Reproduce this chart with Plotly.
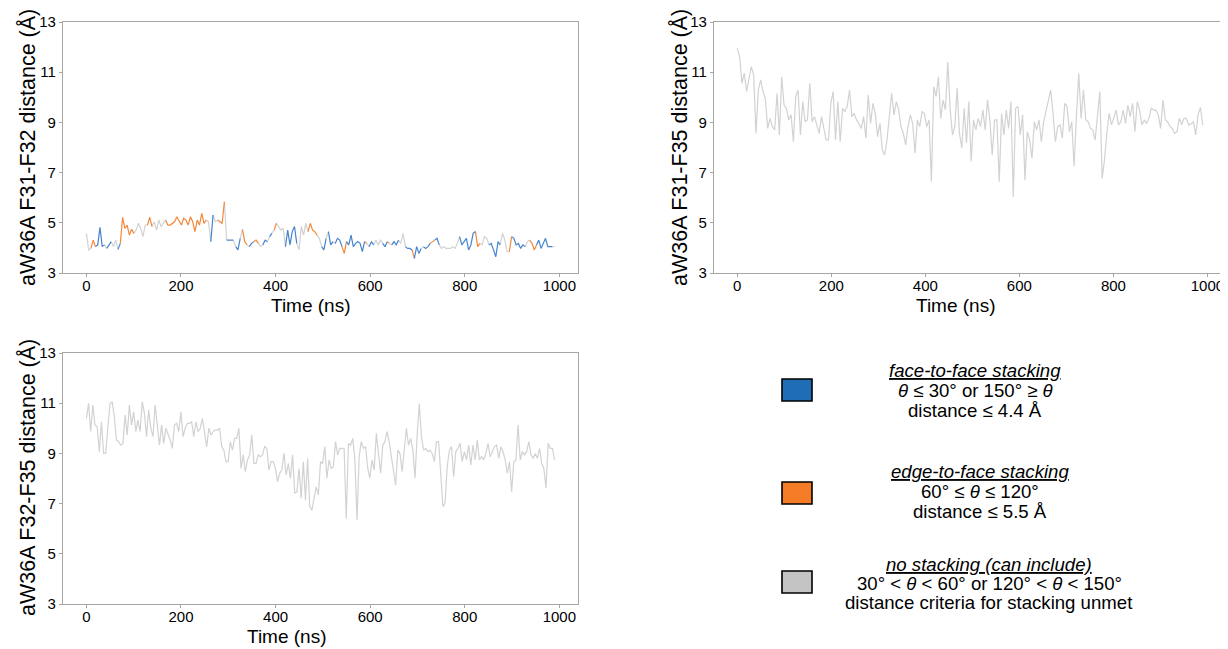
import numpy as np
import plotly.graph_objects as go

W, H = 1228, 649
OFF = 8  # page body margin offset

# ---------------- data ----------------
F31_F32 = [
    4.58, 3.92, 3.98, 4.31, 4.05, 4.12, 4.82, 4.05, 4.12, 3.98,
    4.12, 4.25, 4.05, 4.31, 3.94, 4.18, 5.22, 4.78, 4.91, 4.51,
    4.74, 4.58, 4.71, 4.98, 4.78, 4.45, 4.91, 4.91, 5.22, 4.85,
    5.04, 4.71, 5.11, 4.85, 4.98, 5.11, 4.91, 4.91, 4.98, 5.04,
    5.24, 5.04, 4.91, 5.18, 5.11, 4.91, 5.24, 5.04, 4.65, 5.11,
    4.91, 5.38, 4.98, 5.11, 5.04, 4.25, 5.31, 5.04, 5.11, 5.04,
    4.98, 5.84, 4.31, 4.31, 4.29, 4.31, 4.05, 3.92, 4.38, 4.74,
    4.25, 4.12, 4.05, 4.18, 4.25, 4.31, 4.18, 4.05, 4.12, 4.31,
    4.25, 4.45, 4.58, 4.71, 4.98, 4.85, 4.71, 4.78, 4.05, 4.71,
    4.12, 4.65, 4.85, 4.18, 3.92, 4.85, 4.51, 4.98, 4.65, 4.98,
    4.71, 4.65, 4.51, 4.38, 4.05, 3.92, 4.38, 4.65, 4.12, 4.25,
    4.18, 4.38, 4.31, 4.05, 3.78, 4.25, 4.12, 4.51, 4.05, 4.18,
    4.25, 4.18, 3.85, 4.25, 4.18, 4.05, 4.25, 4.12, 4.31, 4.12,
    4.31, 4.18, 4.05, 4.25, 4.18, 4.12, 4.25, 4.12, 4.31, 4.18,
    4.58, 4.05, 3.98, 3.98, 3.92, 3.58, 4.05, 3.78, 3.98, 4.05,
    3.98, 4.05, 4.18, 4.25, 4.31, 4.38, 4.12, 3.98, 4.05, 3.98,
    3.98, 3.98, 4.05, 3.98, 4.18, 4.45, 4.12, 4.25, 4.38, 3.92,
    4.12, 4.58, 4.65, 4.05, 4.18, 4.12, 4.45, 4.38, 4.12, 4.18,
    3.92, 3.65, 4.25, 4.12, 4.58, 4.31, 3.85, 3.85, 4.45, 4.38,
    4.12, 4.18, 3.98, 4.12, 4.05, 4.25, 4.31, 4.18, 3.92, 4.12,
    4.31, 3.98, 4.18, 4.38, 4.05, 4.05, 4.05, 4.05,
]
# f = face-to-face, e = edge-to-face, n = no stacking
F31_F32_STATE = (
    "nneeffffnf" "fnnnfeeeee" "ennnnnneen" "nnnnneeeee" "eeeeeeeeee"
    "eeennfnnee" "enfffnffne" "enffeennff" "nfnennnnff" "fffnnnnnee"
    "eennffnffn" "fffeefffff" "fffenffnnn" "nffenfffnn" "nfffefffnf"
    "ffeeffnnnn" "nnnnnfffff" "ffeennnnff" "fffnnnneff" "ffffnneeef"
    "ffffffnn"
)

F31_F35 = [
    11.95, 11.62, 10.56, 10.96, 10.23, 10.82, 11.22, 10.89, 8.56, 10.29,
    10.69, 10.23, 9.96, 8.76, 9.16, 8.83, 8.70, 10.16, 8.50, 10.82,
    9.69, 9.56, 9.10, 9.30, 8.23, 10.03, 10.29, 8.50, 9.83, 9.03,
    9.10, 10.56, 9.03, 9.23, 8.83, 8.56, 9.23, 8.83, 8.30, 8.30,
    9.76, 10.23, 8.30, 9.83, 8.23, 9.56, 9.43, 9.63, 10.29, 9.23,
    9.36, 9.10, 8.96, 8.76, 9.23, 8.37, 10.09, 8.96, 9.76, 9.36,
    8.43, 8.96, 7.90, 7.70, 8.30, 9.23, 10.16, 9.30, 9.83, 9.50,
    8.83, 8.56, 8.10, 8.83, 9.30, 8.96, 7.77, 9.10, 8.83, 9.43,
    9.36, 8.83, 9.10, 6.64, 10.42, 10.03, 10.82, 9.16, 9.90, 9.50,
    11.42, 9.56, 8.50, 8.83, 10.36, 8.56, 7.97, 9.56, 8.17, 9.83,
    7.44, 9.10, 8.70, 9.16, 8.83, 9.50, 8.70, 9.90, 9.10, 7.70,
    9.10, 9.10, 6.64, 9.36, 8.50, 9.49, 8.76, 9.83, 6.04, 9.56,
    9.63, 8.50, 9.30, 6.70, 8.63, 8.30, 7.57, 9.03, 8.70, 9.10,
    8.23, 9.03, 9.49, 9.89, 10.29, 9.36, 8.23, 8.83, 8.90, 8.37,
    9.76, 9.63, 8.63, 9.03, 7.24, 9.23, 10.96, 9.16, 10.29, 9.10,
    9.03, 8.76, 8.70, 8.30, 9.36, 10.23, 6.77, 7.50, 8.56, 9.36,
    8.90, 9.23, 9.49, 8.90, 9.03, 9.49, 8.96, 9.69, 9.23, 9.76,
    8.63, 9.83, 9.49, 8.90, 9.10, 8.96, 9.16, 9.56, 9.49, 9.49,
    9.30, 8.76, 9.89, 9.10, 9.03, 8.83, 8.76, 8.56, 8.63, 9.16,
    8.90, 9.16, 9.16, 8.90, 8.94, 9.03, 8.50, 9.30, 9.60, 8.90,
]

F32_F35 = [
    10.40, 10.99, 9.87, 10.93, 10.13, 10.07, 9.07, 10.26, 9.00, 9.00,
    10.07, 10.99, 11.06, 10.46, 9.53, 9.47, 9.33, 9.40, 10.53, 9.73,
    10.93, 10.13, 10.66, 9.87, 10.33, 9.87, 11.06, 10.60, 9.67, 10.73,
    10.00, 9.67, 10.93, 10.20, 9.33, 10.13, 9.40, 10.00, 9.80, 9.53,
    9.20, 10.13, 10.20, 9.87, 10.66, 9.67, 10.00, 10.20, 10.20, 10.26,
    9.67, 10.26, 9.87, 10.00, 10.40, 9.87, 9.27, 10.00, 9.73, 9.87,
    9.93, 9.93, 10.00, 9.27, 9.13, 8.67, 8.67, 9.47, 9.13, 9.60,
    9.60, 10.00, 8.40, 8.94, 8.27, 8.74, 8.94, 9.73, 8.60, 8.60,
    8.94, 8.87, 8.94, 9.27, 9.20, 8.34, 8.67, 8.67, 8.40, 7.87,
    8.21, 8.34, 9.00, 8.14, 8.60, 8.01, 8.94, 7.41, 7.47, 8.40,
    7.21, 8.67, 7.14, 8.80, 6.88, 6.74,
    7.14, 7.67, 7.34, 8.67, 8.60, 9.27, 8.01, 8.74, 8.40, 8.47,
    9.47, 8.94, 9.20, 9.20, 9.20, 6.41, 9.40, 9.33, 9.60, 8.80,
    6.35, 8.87, 9.47, 9.20, 9.27, 8.40, 8.01, 8.74, 8.34, 9.80,
    8.94, 8.21, 9.33, 9.47, 9.87, 9.47, 8.87, 8.34, 7.74, 9.13,
    9.00, 8.27, 9.13, 10.00, 9.33, 9.60, 9.13, 8.01, 9.73, 10.99,
    9.67, 9.13, 9.20, 9.07, 9.13, 9.00, 8.67, 9.47, 9.47, 8.21,
    6.88, 7.01, 8.47, 9.13, 9.27, 8.07, 9.07, 9.20, 9.40, 8.67,
    9.07, 8.74, 9.33, 8.54, 9.33, 8.74, 9.53, 8.74, 8.87, 8.74,
    9.00, 9.40, 8.87, 9.07, 9.27, 9.33, 8.80, 9.27, 9.07, 8.74,
    8.21, 8.67, 7.47, 8.67, 8.74, 10.13, 8.74, 9.07, 8.94, 9.07,
    9.47, 8.94, 8.80, 9.00, 8.80, 9.20, 8.60, 8.40, 7.61, 9.40,
    9.20, 9.20, 8.74,
]

SIM_END_NS = 990
X_TICKS = [0, 200, 400, 600, 800, 1000]
Y_TICKS = [3, 5, 7, 9, 11, 13]
Y_TITLES = ["aW36A F31-F32 distance (Å)", "aW36A F31-F35 distance (Å)",
            "aW36A F32-F35 distance (Å)"]
X_TITLE = "Time (ns)"

LEGEND_LABELS = [
    ["<i><u>face-to-face stacking</u></i>", "<i>θ</i> ≤ 30° or 150° ≥ <i>θ</i>", "distance ≤ 4.4 Å"],
    ["<i><u>edge-to-face stacking</u></i>", "60° ≤ <i>θ</i> ≤ 120°", "distance ≤ 5.5 Å"],
    ["<i><u>no stacking (can include)</u></i>", "30° < <i>θ</i> < 60° or 120° < <i>θ</i> < 150°",
     "distance criteria for stacking unmet"],
]

# ---------------- styles ----------------
LINE_COL = {"f": "rgb(70,132,206)", "e": "rgb(244,136,58)", "n": "rgb(210,210,210)"}
SWATCH_COL = ["#1f6db5", "#f47c26", "#c4c4c4"]
FONT = "Liberation Sans, Arial, sans-serif"


def times(n):
    return list(np.linspace(0, SIM_END_NS, n))


def fx(px):
    return (px - OFF) / W


def fy(py):
    return 1 - (py - OFF) / H


fig = go.Figure()

# Plot 1: coloured segments
t1 = times(len(F31_F32))
for st in ["n", "e", "f"]:
    xs, ys = [], []
    i = 0
    n = len(F31_F32)
    while i < n - 1:
        if F31_F32_STATE[i] == st:
            j = i
            while j < n - 1 and F31_F32_STATE[j] == st:
                j += 1
            xs += t1[i:j + 1] + [None]
            ys += F31_F32[i:j + 1] + [None]
            i = j
        else:
            i += 1
    fig.add_trace(go.Scatter(x=xs, y=ys, mode="lines", line=dict(color=LINE_COL[st], width=1.2),
                             xaxis="x", yaxis="y", showlegend=False, hoverinfo="skip"))

fig.add_trace(go.Scatter(x=times(len(F31_F35)), y=F31_F35, mode="lines",
                         line=dict(color=LINE_COL["n"], width=1.2), xaxis="x2", yaxis="y2",
                         showlegend=False))
fig.add_trace(go.Scatter(x=times(len(F32_F35)), y=F32_F35, mode="lines",
                         line=dict(color=LINE_COL["n"], width=1.2), xaxis="x3", yaxis="y3",
                         showlegend=False))

axis_common = dict(showline=True, mirror=True, linecolor="#a6a6a6", linewidth=1.3,
                   ticks="outside", ticklen=3, tickcolor="#a6a6a6", showgrid=False,
                   zeroline=False, automargin=False,
                   tickfont=dict(family=FONT, size=15, color="black"))

# (left, right, top, bottom) in pixels
boxes = [(63, 578, 22, 273), (714, 1226, 22, 273), (63, 578, 353, 604)]
layout = {}
for k, (l, r, t, b) in enumerate(boxes):
    s = "" if k == 0 else str(k + 1)
    layout["xaxis" + s] = dict(axis_common, domain=[fx(l), min(fx(r), 1)], anchor="y" + s,
                               range=[-49.5, 1039.5], tickvals=X_TICKS, ticklabelstandoff=-4)
    layout["yaxis" + s] = dict(axis_common, domain=[fy(b), fy(t)], anchor="x" + s,
                               range=[3, 13], tickvals=Y_TICKS)
fig.update_layout(**layout)

annots, shapes = [], []
ytitle_pos = [(28, 148), (680, 148), (28, 478)]
xtitle_pos = [(311, 306), (956, 306), (287, 636)]
for k in range(3):
    x, y = ytitle_pos[k]
    annots.append(dict(xref="paper", yref="paper", x=fx(x), y=fy(y), xanchor="center",
                       yanchor="middle", showarrow=False, textangle=-90, text=Y_TITLES[k],
                       font=dict(family=FONT, size=21.5, color="black")))
    x, y = xtitle_pos[k]
    annots.append(dict(xref="paper", yref="paper", x=fx(x), y=fy(y), xanchor="center",
                       yanchor="middle", showarrow=False, text=X_TITLE,
                       font=dict(family=FONT, size=19, color="black")))

# Legend block
sw_tops = [379, 482, 571]
line_centres = [[370, 390, 410], [471, 491, 511], [564, 583, 602]]
text_cx = [975, 980, 989]
for k in range(3):
    y0 = sw_tops[k]
    shapes.append(dict(type="rect", xref="paper", yref="paper",
                       x0=fx(782), x1=fx(812), y0=fy(y0 + 22), y1=fy(y0),
                       fillcolor=SWATCH_COL[k], line=dict(color="black", width=1.6)))
    for j, txt in enumerate(LEGEND_LABELS[k]):
        annots.append(dict(xref="paper", yref="paper", x=fx(text_cx[k]),
                           y=fy(line_centres[k][j]), xanchor="center", yanchor="middle",
                           showarrow=False, text=txt,
                           font=dict(family=FONT, size=18.6, color="black")))

fig.update_layout(shapes=shapes, annotations=annots, width=W, height=H,
                  margin=dict(l=0, r=0, t=0, b=0), paper_bgcolor="white",
                  plot_bgcolor="white", showlegend=False)

fig.write_html("out.html")
